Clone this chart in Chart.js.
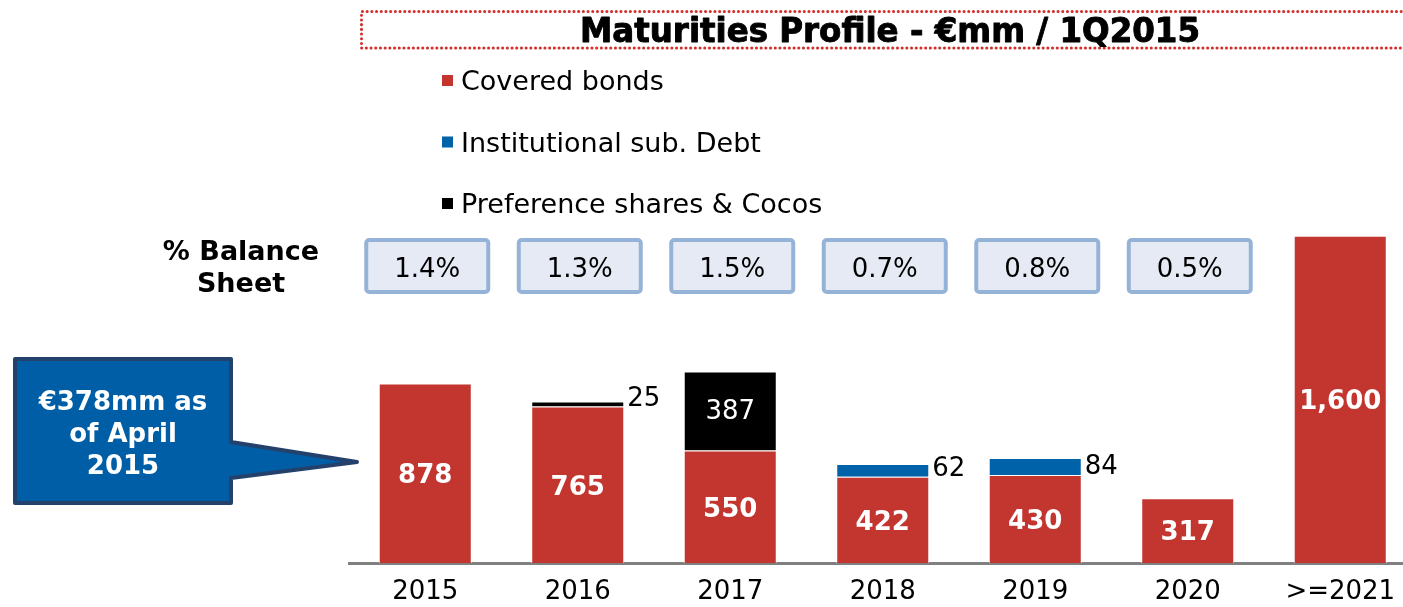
<!DOCTYPE html>
<html><head><meta charset="utf-8">
<script src="https://cdn.jsdelivr.net/npm/chart.js@4.4.1/dist/chart.umd.min.js"></script>
<style>
html,body{margin:0;padding:0;overflow:hidden;background:#fff;width:1403px;height:607px}
#wrap{position:absolute;left:0;top:0;width:1420px;height:607px}
</style></head><body><div id="wrap"><canvas id="c" width="1420" height="607"></canvas></div>
<script>
const categories = ['2015','2016','2017','2018','2019','2020','>=2021'];
const coveredBonds = [878, 765, 550, 422, 430, 317, 1600];
const instSubDebt = [null, null, null, 62, 84, null, null];
const prefSharesCocos = [null, 25, 387, null, null, null, null];
const balanceSheetPct = ['1.4%', '1.3%', '1.5%', '0.7%', '0.8%', '0.5%', null];
const seriesNames = ['Covered bonds', 'Institutional sub. Debt', 'Preference shares & Cocos'];
const titleText = 'Maturities Profile - €mm / 1Q2015';
const pctHeading = ['% Balance', 'Sheet'];
const calloutLines = ['€378mm as', 'of April', '2015'];

const RED = '#c3352f', BLUE = '#0062a8', BLACK = '#000000';
const FONT = '"DejaVu Sans", Verdana, sans-serif';

const decor = {
  id: 'decor',
  beforeDraw(chart) {
    const ctx = chart.ctx;
    ctx.save();
    // dotted title box
    ctx.strokeStyle = '#d2302c';
    ctx.lineWidth = 3;
    ctx.lineCap = 'round';
    ctx.setLineDash([0.1, 4.6]);
    ctx.beginPath();
    ctx.moveTo(1420, 11.5); ctx.lineTo(361.5, 11.5); ctx.lineTo(361.5, 48); ctx.lineTo(1420, 48);
    ctx.stroke();
    ctx.setLineDash([]);
    // title
    ctx.fillStyle = '#000';
    ctx.strokeStyle = '#000';
    ctx.lineWidth = 0.9;
    ctx.lineJoin = 'round';
    ctx.font = 'bold 34px "DejaVu Sans Condensed", "DejaVu Sans", sans-serif';
    ctx.textBaseline = 'alphabetic';
    ctx.textAlign = 'left';
    const tw = ctx.measureText(titleText).width;
    const target = 620;
    ctx.save();
    ctx.translate(580, 42);
    ctx.scale(target / tw, 1);
    ctx.fillText(titleText, 0, 0);
    ctx.strokeText(titleText, 0, 0);
    ctx.restore();
    // legend
    const ds = chart.data.datasets;
    ctx.font = '27px ' + FONT;
    ds.forEach((d, k) => {
      const base = 90 + k * 61.5;
      ctx.fillStyle = d.backgroundColor;
      ctx.fillRect(442, base - 15, 11, 11);
      ctx.fillStyle = '#000';
      ctx.fillText(d.label, 461, base);
    });
    // % Balance Sheet heading
    ctx.font = 'bold 27px ' + FONT;
    ctx.textAlign = 'center';
    ctx.fillText(pctHeading[0], 241, 260);
    ctx.fillText(pctHeading[1], 241, 292);
    // pct boxes
    const xs = chart.scales.x;
    ctx.font = '26px ' + FONT;
    balanceSheetPct.forEach((p, i) => {
      if (!p) return;
      const cx = xs.getPixelForValue(i) + 2;
      ctx.beginPath();
      ctx.roundRect(cx - 61, 240, 122, 52, 3);
      ctx.fillStyle = '#e6eaf5';
      ctx.fill();
      ctx.lineWidth = 4;
      ctx.strokeStyle = '#95b3d7';
      ctx.stroke();
      ctx.fillStyle = '#000';
      ctx.fillText(p, cx, 277);
    });
    // callout
    ctx.beginPath();
    ctx.moveTo(15, 359); ctx.lineTo(231, 359); ctx.lineTo(231, 442);
    ctx.lineTo(357, 462); ctx.lineTo(231, 478); ctx.lineTo(231, 503);
    ctx.lineTo(15, 503); ctx.closePath();
    ctx.fillStyle = '#005ea6';
    ctx.fill();
    ctx.lineJoin = 'round';
    ctx.lineWidth = 4;
    ctx.strokeStyle = '#23416b';
    ctx.stroke();
    ctx.fillStyle = '#fff';
    ctx.font = 'bold 26px ' + FONT;
    calloutLines.forEach((t, j) => ctx.fillText(t, 123, 410 + j * 32));
    ctx.restore();
  },
  afterDatasetsDraw(chart) {
    const ctx = chart.ctx;
    ctx.save();
    chart.data.datasets.forEach((d, k) => {
      const meta = chart.getDatasetMeta(k);
      meta.data.forEach((el, i) => {
        const v = d.data[i];
        if (v == null) return;
        const label = v.toLocaleString('en-US');
        if (k === 0) {
          ctx.font = 'bold 26px ' + FONT;
          ctx.fillStyle = '#fff';
          ctx.textAlign = 'center';
          ctx.textBaseline = 'middle';
          ctx.fillText(label, el.x, (el.y + el.base) / 2 + 3);
        } else if (v > 150) {
          ctx.font = '26px ' + FONT;
          ctx.fillStyle = '#fff';
          ctx.textAlign = 'center';
          ctx.textBaseline = 'middle';
          ctx.fillText(label, el.x, (el.y + el.base) / 2 + 1);
        } else {
          ctx.font = '26px ' + FONT;
          ctx.fillStyle = '#000';
          ctx.textAlign = 'left';
          ctx.textBaseline = 'alphabetic';
          ctx.fillText(label, el.x + el.width / 2 + 3, el.base - 1);
        }
      });
    });
    ctx.restore();
  }
};

const common = { barPercentage: 0.61, categoryPercentage: 1.0, borderWidth: 1, borderColor: 'rgba(255,255,255,0.85)', borderSkipped: 'start' };

new Chart(document.getElementById('c'), {
  type: 'bar',
  data: {
    labels: categories,
    datasets: [
      Object.assign({ label: seriesNames[0], data: coveredBonds, backgroundColor: RED }, common),
      Object.assign({ label: seriesNames[1], data: instSubDebt, backgroundColor: BLUE }, common),
      Object.assign({ label: seriesNames[2], data: prefSharesCocos, backgroundColor: BLACK }, common)
    ]
  },
  options: {
    responsive: false,
    animation: false,
    devicePixelRatio: 1,
    layout: { padding: { left: 349, right: 3.5, top: 154, bottom: 0 } },
    plugins: { legend: { display: false }, tooltip: { enabled: false } },
    scales: {
      x: {
        stacked: true,
        z: 1,
        grid: { display: false, drawTicks: false },
        border: { display: true, color: '#808080', width: 3 },
        ticks: { color: '#000', font: { family: FONT, size: 26 }, padding: 14 },
        afterFit(s) { s.height = 44; }
      },
      y: { stacked: true, display: false, min: 0, max: 2000 }
    }
  },
  plugins: [decor]
});
</script></body></html>
